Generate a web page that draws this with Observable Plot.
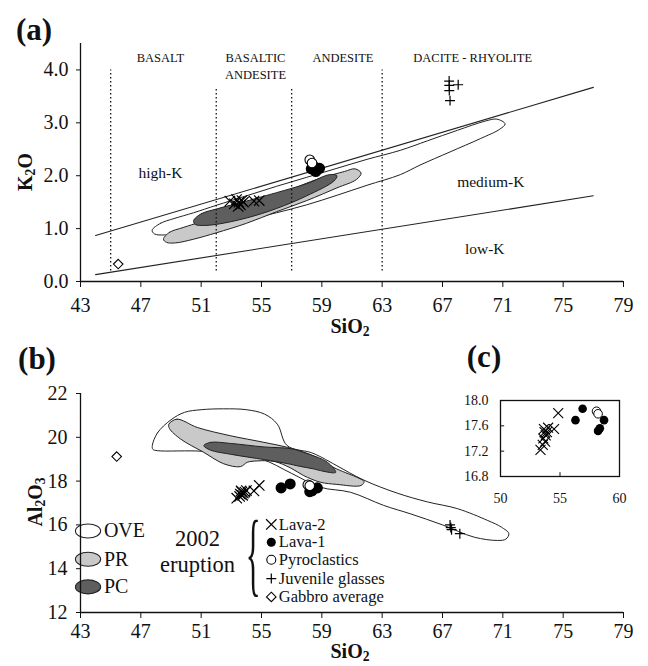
<!DOCTYPE html>
<html><head><meta charset="utf-8">
<script src="https://cdn.jsdelivr.net/npm/d3@7"></script>
<script src="https://cdn.jsdelivr.net/npm/@observablehq/plot@0.6"></script>
<style>
body{margin:0;background:#fff;}
#fig{position:relative;width:648px;height:666px;overflow:hidden;font-family:"Liberation Serif","Times New Roman",serif;color:#111;background:#fff;}
#fig svg{position:absolute;}
.lbl{position:absolute;white-space:nowrap;line-height:1;transform:translate(-50%,-50%);}
.lbl sub{font-size:68%;vertical-align:-0.25em;line-height:0;}
.rot{transform:translate(-50%,-50%) rotate(-90deg);}
</style></head><body><div id="fig"></div>
<script>
// ---------- tick values ----------
const xTicks = [43,47,51,55,59,63,67,71,75,79];
const kTicks = [0,1,2,3,4];
const alTicks = [12,14,16,18,20,22];
const cXTicks = [50,55,60];
const cYTicks = [16.8,17.2,17.6,18.0];

// ---------- panel (a): K2O vs SiO2 ----------
const divSi = [45,52,57,63];
const divTop = [4.0,3.63,3.63,4.0];
const regionNames = ["BASALT","BASALTIC","ANDESITE","ANDESITE","DACITE - RHYOLITE"];
const regionSi = [48.3,54.6,54.6,60.4,69.0];
const regionK = [4.22,4.22,3.9,4.22,4.22];
const seriesNames = ["high-K","medium-K","low-K"];
const seriesSi = [48.3,70.2,69.8];
const seriesK = [2.06,1.89,0.62];
const highKLine = [[44,0.87],[77,3.67]];
const lowKLine = [[44,0.13],[77,1.62]];
const oveA = [[47.75,0.97],[48.3,1.1],[49.2,1.19],[50.5,1.3],[52,1.44],[54,1.62],[56,1.8],[58,1.97],[60,2.14],[62,2.31],[64.2,2.48],[66,2.66],[68,2.86],[69.8,3.03],[70.6,3.07],[71.15,2.98],[70.8,2.88],[69.5,2.7],[67.5,2.45],[65.5,2.2],[64.2,2.02],[62,1.82],[60,1.63],[58,1.45],[56,1.3],[54,1.16],[52,1.03],[50,0.93],[48.6,0.88],[47.9,0.9]];
const prA = [[48.5,0.8],[48.9,0.93],[49.8,1.02],[51,1.13],[53,1.33],[55,1.53],[57,1.74],[58,1.86],[59,1.96],[60.5,2.08],[61.2,2.13],[61.6,2.05],[61.3,1.93],[60,1.77],[58,1.53],[56,1.32],[54,1.1],[52,0.92],[50.5,0.8],[49.3,0.73],[48.7,0.74]];
const pcA = [[50.5,1.15],[51,1.28],[52,1.37],[54,1.52],[56,1.68],[58,1.85],[59.5,2.02],[60,2.0],[59.8,1.9],[58,1.62],[56,1.38],[54,1.2],[52,1.08],[51,1.06],[50.6,1.08]];
const aLava2Si = [52.9,53.2,53.35,53.5,53.6,53.7,53.45,53.8,54.5,54.85];
const aLava2K  = [1.52,1.47,1.55,1.5,1.45,1.53,1.42,1.5,1.52,1.53];
const aLava1Si = [58.3,58.5,58.7,58.85,58.6];
const aLava1K  = [2.13,2.17,2.12,2.14,2.08];
const aPyroSi = [58.2,58.35];
const aPyroK  = [2.3,2.24];
const aGlassSi = [67.44,67.45,68.04,67.45,67.5];
const aGlassK  = [3.79,3.71,3.72,3.61,3.42];
const aGabbroSi = [45.5];
const aGabbroK  = [0.33];

// ---------- panel (b): Al2O3 vs SiO2 ----------
const oveB = [[47.76,19.62],[48.1,20.2],[49,20.8],[49.9,21.14],[51,21.26],[52.5,21.3],[54,21.26],[55.2,21.06],[56.05,20.6],[56.7,19.62],[58.3,19.3],[59,19.08],[60,18.7],[61.8,18.04],[64,17.45],[66,17.05],[68,16.74],[70,16.2],[70.9,15.9],[71.4,15.6],[71.2,15.35],[70.65,15.29],[69.1,15.44],[67,16.0],[64.9,16.5],[63.1,16.89],[60.9,17.49],[58.9,17.72],[57,18.35],[55,19.0],[53,19.15],[51.1,19.36],[48.1,19.39],[47.8,19.45]];
const prB = [[48.86,20.6],[49.4,20.83],[50.74,20.45],[52.95,20.07],[55.16,19.77],[56.72,19.54],[58.27,19.2],[58.9,18.95],[60,18.55],[61.4,18.15],[61.8,17.98],[61.6,17.8],[60,17.85],[58.9,17.95],[57.8,18.25],[56.93,18.6],[55.83,18.9],[54.72,18.92],[54.06,18.86],[53.6,18.66],[52.5,18.79],[51.18,19.31],[49.64,19.92],[48.9,20.4]];
const pcB = [[51.18,19.62],[51.63,19.77],[52.95,19.72],[55.16,19.56],[56.94,19.48],[57.8,19.31],[59.37,18.86],[59.92,18.4],[59.3,18.42],[58.5,18.55],[57.5,18.68],[56.7,18.8],[55.2,18.98],[53,19.22],[51.6,19.42]];
const lava2Si = [53.36,53.55,53.6,53.65,53.7,53.75,53.8,53.9,54.0,54.5,54.85];
const lava2Al = [17.22,17.3,17.4,17.55,17.5,17.35,17.45,17.5,17.57,17.55,17.8];
const lava1Si = [56.3,56.9,58.2,58.35,58.7];
const lava1Al = [17.69,17.87,17.52,17.56,17.69];
const pyroSi = [58.07,58.2];
const pyroAl = [17.83,17.79];
const glassSi = [67.5,67.55,67.6,68.15];
const glassAl = [16.0,15.88,15.78,15.6];
const gabbroSi = [45.4];
const gabbroAl = [19.12];

// ---------- legend ----------
const fieldNames = ["OVE","PR","PC"];
const fieldFills = ["white","#c9c9c9","#5e5e5e"];
const fieldAl = [15.72,14.43,13.17];
const eruptionLines = ["2002","eruption"];
const eruptionAl = [15.36,14.2];
const sampleNames = ["Lava-2","Lava-1","Pyroclastics","Juvenile glasses","Gabbro average"];
const sampleAl = [16.02,15.21,14.41,13.55,12.71];

// ---------- helpers ----------
const ink = "#111";
const fontFam = "'Liberation Serif','Times New Roman',serif";
const zip = (xs, ys) => xs.map((x, i) => ({x, y: ys[i]}));
const shape = (pts, fill) => Plot.line(pts, {x: d => d[0], y: d => d[1], curve: "catmull-rom-closed", fill, stroke: "#222", strokeWidth: 1});
const seg = (pts) => Plot.line(pts, {x: d => d[0], y: d => d[1], stroke: "#222", strokeWidth: 1.1});
const ellipseSym = {draw(ctx, size) {
  const r = Math.sqrt(size / Math.PI), rx = 1.8 * r, ry = r, k = 0.5523;
  ctx.moveTo(rx, 0);
  ctx.bezierCurveTo(rx, ry * k, rx * k, ry, 0, ry);
  ctx.bezierCurveTo(-rx * k, ry, -rx, ry * k, -rx, 0);
  ctx.bezierCurveTo(-rx, -ry * k, -rx * k, -ry, 0, -ry);
  ctx.bezierCurveTo(rx * k, -ry, rx, -ry * k, rx, 0);
  ctx.closePath();
}};
const symbolMarks = (lv2, lv1, py, gl, gb) => [
  Plot.dot(lv2, {x: "x", y: "y", symbol: "times", r: 4.8, stroke: "#000", strokeWidth: 1.2}),
  Plot.dot(lv1, {x: "x", y: "y", symbol: "circle", r: 4.8, fill: "#000", stroke: "#000"}),
  Plot.dot(py, {x: "x", y: "y", symbol: "circle", r: 4.8, fill: "white", stroke: "#000", strokeWidth: 1.1}),
  Plot.dot(gl, {x: "x", y: "y", symbol: "plus", r: 3.3, stroke: "#000", strokeWidth: 1.2}),
  Plot.dot(gb, {x: "x", y: "y", symbol: "diamond2", r: 4.3, fill: "white", stroke: "#000", strokeWidth: 1.1})
];

const fig = document.getElementById("fig");

// ---------- panel (a) ----------
const plotA = Plot.plot({
  width: 648, height: 320,
  marginLeft: 80, marginRight: 25, marginTop: 43, marginBottom: 39,
  x: {domain: [43, 79]}, y: {domain: [0, 4.5]},
  style: {fontFamily: fontFam, fontSize: "20px", color: ink, background: "transparent", overflow: "visible"},
  marks: [
    shape(oveA, "white"), shape(prA, "#c9c9c9"), shape(pcA, "#5e5e5e"),
    Plot.ruleX(divSi.map((x, i) => ({x, top: divTop[i]})), {x: "x", y1: 0.2, y2: "top", stroke: ink, strokeWidth: 1.3, strokeDasharray: "1.4,2.6"}),
    seg(highKLine), seg(lowKLine),
    Plot.text(regionNames.map((t, i) => ({t, x: regionSi[i], y: regionK[i]})), {x: "x", y: "y", text: "t", fontSize: 12.5, fill: ink}),
    Plot.text(seriesNames.map((t, i) => ({t, x: seriesSi[i], y: seriesK[i]})), {x: "x", y: "y", text: "t", fontSize: 15.5, fill: ink}),
    ...symbolMarks(zip(aLava2Si, aLava2K), zip(aLava1Si, aLava1K), zip(aPyroSi, aPyroK), zip(aGlassSi, aGlassK), zip(aGabbroSi, aGabbroK)),
    Plot.ruleX([43], {stroke: ink, strokeWidth: 1.3}),
    Plot.ruleY([0], {stroke: ink, strokeWidth: 1.3}),
    Plot.axisX(xTicks, {tickSize: 6, tickPadding: 10, label: null, stroke: ink}),
    Plot.axisY(kTicks, {tickSize: 4, tickPadding: 8, label: null, tickFormat: d => d.toFixed(1), stroke: ink})
  ]
});
plotA.style.left = "0px"; plotA.style.top = "0px";
fig.appendChild(plotA);

// ---------- panel (b) ----------
const plotB = Plot.plot({
  width: 648, height: 346,
  marginLeft: 80, marginRight: 25, marginTop: 73, marginBottom: 54,
  x: {domain: [43, 79]}, y: {domain: [12, 22]},
  style: {fontFamily: fontFam, fontSize: "20px", color: ink, background: "transparent", overflow: "visible"},
  marks: [
    shape(oveB, "white"), shape(prB, "#c9c9c9"), shape(pcB, "#5e5e5e"),
    ...symbolMarks(zip(lava2Si, lava2Al), zip(lava1Si, lava1Al), zip(pyroSi, pyroAl), zip(glassSi, glassAl), zip(gabbroSi, gabbroAl)),
    // legend: fields
    Plot.dot(fieldNames.map((t, i) => ({t, f: fieldFills[i], y: fieldAl[i]})), {x: 43.5, y: "y", symbol: ellipseSym, r: 7, fill: "f", stroke: "#222", strokeWidth: 1.1}),
    Plot.text(fieldNames.map((t, i) => ({t, y: fieldAl[i]})), {x: 44.55, y: "y", text: "t", textAnchor: "start", fontSize: 20, fill: ink}),
    Plot.text(eruptionLines.map((t, i) => ({t, y: eruptionAl[i]})), {x: 50.76, y: "y", text: "t", fontSize: 22.5, fill: ink}),
    Plot.text(["{"], {x: 54.45, y: 14.62, text: d => d, fontSize: 94, fill: ink, className: "brace"}),
    // legend: samples
    Plot.dot([{y: sampleAl[0]}], {x: 55.65, y: "y", symbol: "times", r: 4.8, stroke: "#000", strokeWidth: 1.2}),
    Plot.dot([{y: sampleAl[1]}], {x: 55.65, y: "y", symbol: "circle", r: 4.5, fill: "#000"}),
    Plot.dot([{y: sampleAl[2]}], {x: 55.65, y: "y", symbol: "circle", r: 4.5, fill: "white", stroke: "#000", strokeWidth: 1.1}),
    Plot.dot([{y: sampleAl[3]}], {x: 55.65, y: "y", symbol: "plus", r: 3.3, stroke: "#000", strokeWidth: 1.2}),
    Plot.dot([{y: sampleAl[4]}], {x: 55.65, y: "y", symbol: "diamond2", r: 4.3, fill: "white", stroke: "#000", strokeWidth: 1.1}),
    Plot.text(sampleNames.map((t, i) => ({t, y: sampleAl[i]})), {x: 56.15, y: "y", text: "t", textAnchor: "start", fontSize: 16.5, fill: ink}),
    Plot.ruleX([43], {stroke: ink, strokeWidth: 1.3}),
    Plot.ruleY([12], {stroke: ink, strokeWidth: 1.3}),
    Plot.axisX(xTicks, {tickSize: 6, tickPadding: 5, label: null, stroke: ink}),
    Plot.axisY(alTicks, {tickSize: 4, tickPadding: 9, label: null, stroke: ink})
  ]
});
plotB.style.left = "0px"; plotB.style.top = "320px";
fig.appendChild(plotB);
plotB.querySelectorAll(".brace text").forEach(el => {
  el.setAttribute("transform", (el.getAttribute("transform") || "") + " scale(0.33,1)");
});

// ---------- panel (c) inset ----------
const plotC = Plot.plot({
  width: 200, height: 130,
  marginLeft: 60, marginRight: 21, marginTop: 20, marginBottom: 34,
  x: {domain: [50, 60]}, y: {domain: [16.8, 18.0]},
  style: {fontFamily: fontFam, fontSize: "14px", color: ink, background: "transparent", overflow: "visible"},
  marks: [
    Plot.frame({stroke: ink, strokeWidth: 1.3}),
    Plot.ruleY(cYTicks, {x1: cXTicks[0], x2: cXTicks[0] + 0.35, stroke: ink}),
    Plot.ruleX(cXTicks, {y1: cYTicks[0], y2: cYTicks[0] + 0.06, stroke: ink}),
    Plot.dot(zip(lava2Si, lava2Al), {x: "x", y: "y", symbol: "times", r: 4.6, stroke: "#000", strokeWidth: 1.1}),
    Plot.dot(zip(lava1Si, lava1Al), {x: "x", y: "y", symbol: "circle", r: 4.3, fill: "#000"}),
    Plot.dot(zip(pyroSi, pyroAl), {x: "x", y: "y", symbol: "circle", r: 4.3, fill: "white", stroke: "#000", strokeWidth: 1}),
    Plot.axisX(cXTicks, {tickSize: 0, tickPadding: 17, label: null}),
    Plot.axisY(cYTicks, {tickSize: 0, tickPadding: 12, label: null, tickFormat: d => d.toFixed(1)})
  ]
});
plotC.style.left = "440px"; plotC.style.top = "380px";
fig.appendChild(plotC);

// ---------- titles / panel labels ----------
function label(html, x, y, css, rot) {
  const d = document.createElement("div");
  d.className = "lbl" + (rot ? " rot" : "");
  d.innerHTML = html;
  d.style.left = x + "px"; d.style.top = y + "px";
  Object.assign(d.style, css);
  fig.appendChild(d);
}
const panelCss = {fontSize: "31px", fontWeight: "bold"};
const titleCss = {fontSize: "20px", fontWeight: "bold"};
label("(a)", 34, 29, panelCss);
label("(b)", 37, 358, panelCss);
label("(c)", 484, 356, panelCss);
label("K<sub>2</sub>O", 25, 172, titleCss, true);
label("Al<sub>2</sub>O<sub>3</sub>", 35, 502, titleCss, true);
label("SiO<sub>2</sub>", 350, 326, titleCss);
label("SiO<sub>2</sub>", 350, 651, titleCss);
</script></body></html>
